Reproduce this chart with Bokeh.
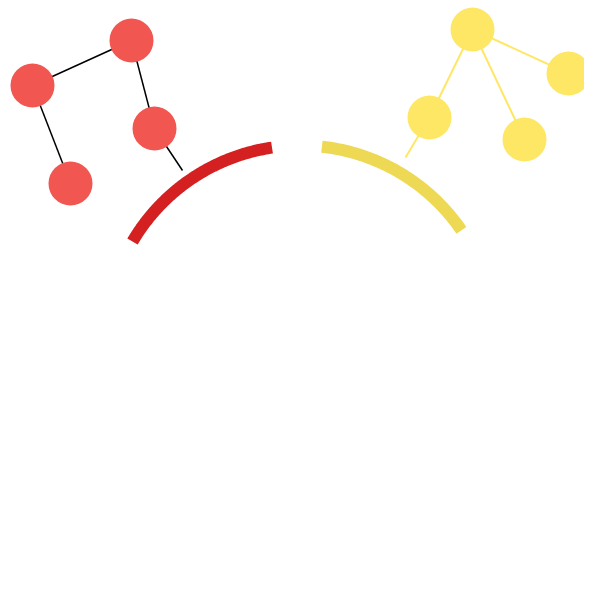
import numpy as np
from bokeh.plotting import figure
from bokeh.embed import file_html
from bokeh.resources import INLINE

# group arcs: (start angle, end angle) in degrees, around a common centre
arc_names = ["red", "yellow"]
arc_angles = [(98.4, 149.5), (34.4, 83.7)]
arc_colors = ["#d42020", "#eed955"]
centre = (300, 340)
radius = 195

# nodes for each group
red_x = [131, 32, 154, 70]
red_y = [40, 85, 128, 183]
red_edges = [(0, 1), (1, 3), (0, 2)]
red_link = (2, (182, 170))

yel_x = [472, 568, 429, 524]
yel_y = [29, 73, 117, 139]
yel_edges = [(0, 1), (0, 2), (0, 3)]
yel_link = (2, (405, 157))

p = figure(width=584, height=584, x_range=(0, 584), y_range=(584, 0),
           output_backend="svg", toolbar_location=None)
p.axis.visible = False
p.grid.visible = False
p.outline_line_color = None
p.min_border = 0

for (a0, a1), c in zip(arc_angles, arc_colors):
    t = np.radians(np.linspace(a0, a1, 80))
    p.line(centre[0] + radius * np.cos(t), centre[1] - radius * np.sin(t),
           line_color=c, line_width=12)

def draw_group(xs, ys, edges, link, edge_color, edge_w, fill):
    for a, b in edges:
        p.line([xs[a], xs[b]], [ys[a], ys[b]], line_color=edge_color, line_width=edge_w)
    i, (lx, ly) = link
    p.line([xs[i], lx], [ys[i], ly], line_color=edge_color, line_width=edge_w)
    p.scatter(xs, ys, size=44, fill_color=fill, line_color=None)

draw_group(red_x, red_y, red_edges, red_link, "black", 1.5, "#f25650")
draw_group(yel_x, yel_y, yel_edges, yel_link, "#ffe766", 2, "#ffe766")

open("out.html", "w").write(file_html(p, INLINE))
